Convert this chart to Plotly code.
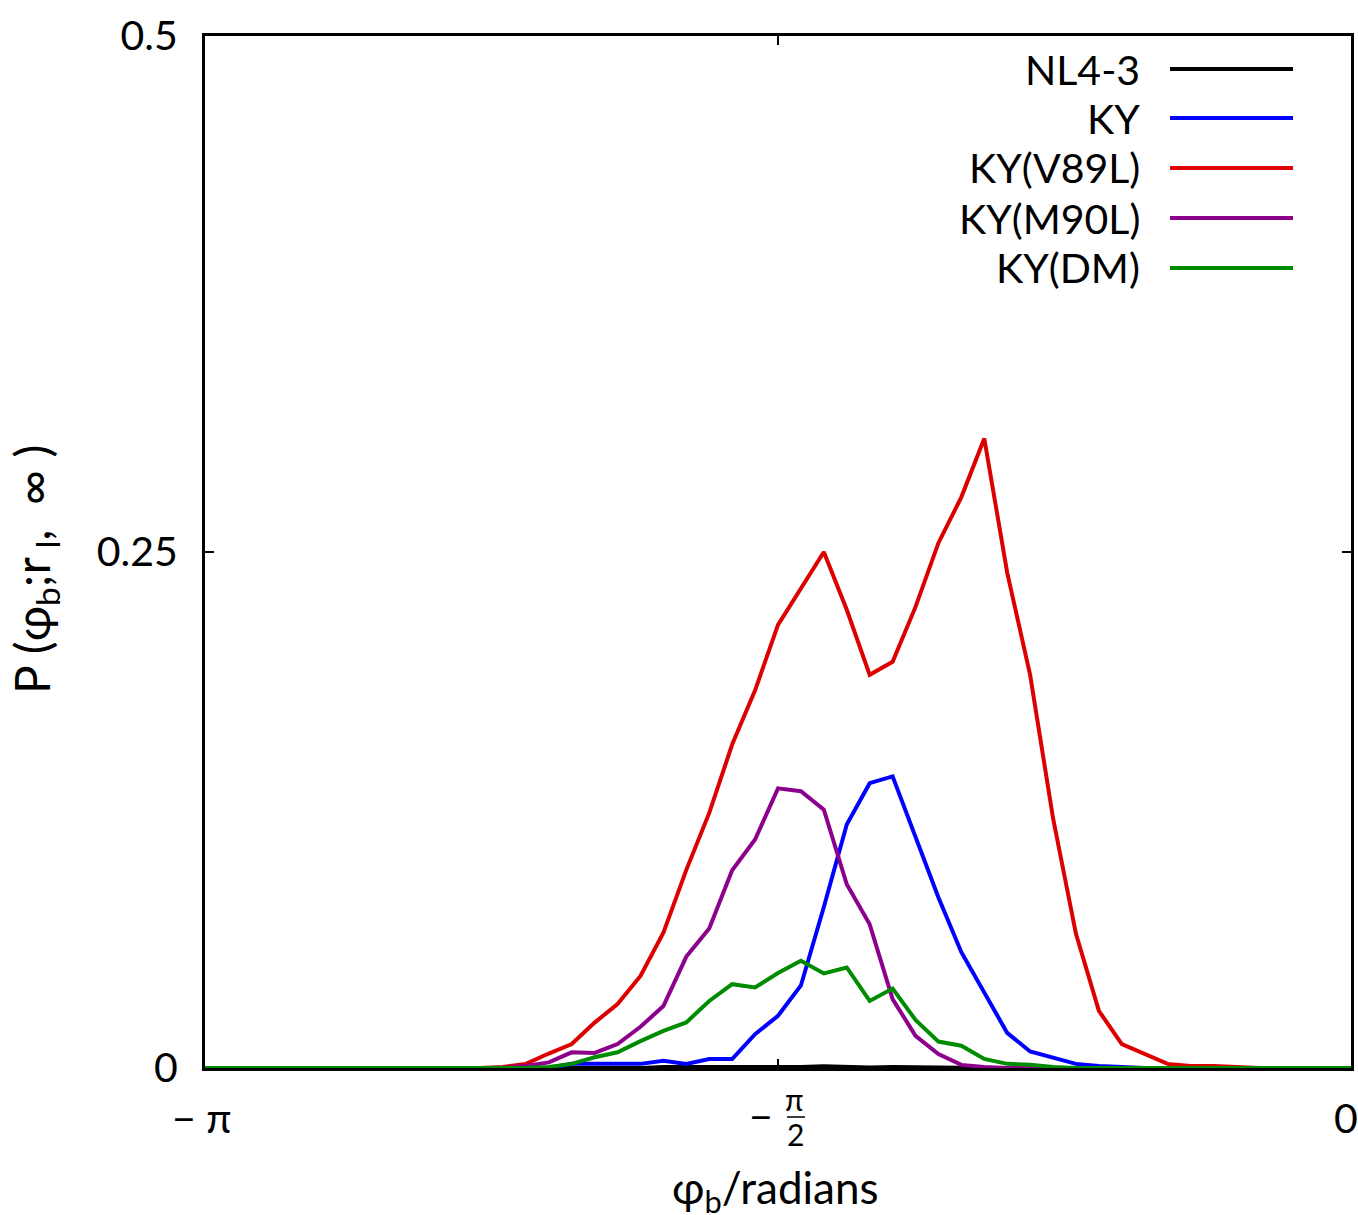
import math
import plotly.graph_objects as go

# bin index k -> phi_b = -pi + k*pi/50 (51 grid points from -pi to 0)
bin_index = list(range(51))
phi_b = [-math.pi + k * math.pi / 50 for k in bin_index]

series_names = ["NL4-3", "KY", "KY(V89L)", "KY(M90L)", "KY(DM)"]

nl43 = [0]*20 + [0.0005, 0.0005, 0.0005, 0.0005, 0.0003, 0.0003, 0.0005, 0.0008, 0.0005, 0.0003,
                 0.0005, 0.0003] + [0]*19

ky = [0]*16 + [0.002, 0.002, 0.002, 0.002, 0.0035, 0.002, 0.0043, 0.0043, 0.0164, 0.0253,
               0.040, 0.078, 0.118, 0.138, 0.1413, 0.112, 0.0826, 0.0561, 0.0367, 0.0170,
               0.008, 0.0052, 0.002, 0.001, 0.0003] + [0]*10

ky_v89l = [0]*13 + [0.0005, 0.002, 0.007, 0.0116, 0.022, 0.031, 0.0446, 0.0656, 0.096, 0.1236,
                    0.1567, 0.183, 0.2147, 0.2326, 0.250, 0.222, 0.1905, 0.1968, 0.2234, 0.2544,
                    0.2766, 0.305, 0.240, 0.1905, 0.121, 0.065, 0.0277, 0.0116, 0.0068, 0.002,
                    0.001, 0.001, 0.0005] + [0]*5

ky_m90l = [0]*14 + [0.001, 0.0027, 0.0076, 0.0073, 0.0116, 0.020, 0.030, 0.054, 0.0676, 0.0958,
                    0.1107, 0.1355, 0.1341, 0.1252, 0.089, 0.0696, 0.0334, 0.0156, 0.0068, 0.0015,
                    0.0005] + [0]*16

ky_dm = [0]*15 + [0.0005, 0.002, 0.0052, 0.0076, 0.013, 0.018, 0.0221, 0.0325, 0.0406, 0.039,
                  0.046, 0.052, 0.0458, 0.0487, 0.0325, 0.0385, 0.0233, 0.0128, 0.0108, 0.0044,
                  0.002, 0.0016, 0.0005] + [0]*13

colors = ["#000000", "#0000ff", "#dc0000", "#8c008c", "#008c00"]
all_series = [nl43, ky, ky_v89l, ky_m90l, ky_dm]

x_tickvals = [-math.pi, -math.pi / 2, 0]
y_tickvals = [0, 0.25, 0.5]
y_ticktext = ["0", "0.25", "0.5"]

FONT = "Lato, 'Open Sans', sans-serif"
FS = 41

fig = go.Figure()
for name, vals, col in zip(series_names, all_series, colors):
    fig.add_trace(go.Scatter(x=phi_b, y=vals, mode="lines", name=name,
                             line=dict(color=col, width=4), showlegend=False))

fig.update_layout(
    width=1358, height=1215,
    margin=dict(l=205, r=7, t=36, b=147, autoexpand=False),
    plot_bgcolor="white", paper_bgcolor="white",
    font=dict(family=FONT, size=FS, color="black"),
    xaxis=dict(range=[-math.pi, 0], tickvals=x_tickvals, showticklabels=False,
               showgrid=False, zeroline=False, showline=True, linecolor="black",
               linewidth=3, mirror="ticks", ticks="inside", ticklen=9, tickwidth=2,
               tickcolor="black", automargin=False),
    yaxis=dict(range=[0, 0.5], tickvals=y_tickvals, ticktext=y_ticktext,
               showgrid=False, zeroline=False, showline=True, linecolor="black",
               linewidth=3, mirror="ticks", ticks="inside", ticklen=9, tickwidth=2,
               tickcolor="black", tickfont=dict(size=FS), ticklabelstandoff=16,
               automargin=False),
)

ann = []
# x tick labels
ann.append(dict(x=-math.pi, y=0, xref="x", yref="paper", text="\u2212 \u03c0", showarrow=False,
                xanchor="center", yanchor="middle", xshift=-3, yshift=-49, font=dict(size=FS)))
ann.append(dict(x=0, y=0, xref="x", yref="paper", text="0", showarrow=False,
                xanchor="center", yanchor="middle", xshift=-5, yshift=-49, font=dict(size=FS)))
# -pi/2 fraction tick label
ann.append(dict(x=-math.pi / 2, y=0, xref="x", yref="paper", text="\u2212", showarrow=False,
                xanchor="center", yanchor="middle", xshift=-17, yshift=-47, font=dict(size=FS)))
ann.append(dict(x=-math.pi / 2, y=0, xref="x", yref="paper", text="\u03c0", showarrow=False,
                xanchor="center", yanchor="middle", xshift=16, yshift=-31, font=dict(size=30)))
ann.append(dict(x=-math.pi / 2, y=0, xref="x", yref="paper", text="2", showarrow=False,
                xanchor="center", yanchor="middle", xshift=17, yshift=-66, font=dict(size=30)))
# axis titles
ann.append(dict(x=0.5, y=0, xref="paper", yref="paper", text="\u03c6<sub>b</sub>/radians",
                showarrow=False, xanchor="center", yanchor="middle", xshift=-3, yshift=-122,
                font=dict(size=44)))
ann.append(dict(x=0, y=0.4826, xref="paper", yref="paper",
                text="P (\u03c6<sub>b</sub>;r<sub> l</sub>,  \u221e )", textangle=-90,
                showarrow=False, xanchor="center", yanchor="middle", xshift=-170,
                font=dict(size=48)))

shapes = [dict(type="line", xref="x", yref="paper", xsizemode="pixel", ysizemode="pixel",
               xanchor=-math.pi / 2, yanchor=0, x0=9, x1=27, y0=-49, y1=-49,
               line=dict(color="black", width=1.5))]

# custom legend (text left, line sample right)
legend_y = [0.968, 0.9205, 0.8721, 0.8236, 0.7752]
for name, col, ly in zip(series_names, colors, legend_y):
    ann.append(dict(x=0.8141, y=ly, xref="paper", yref="paper", text=name, showarrow=False,
                    xanchor="right", yanchor="middle", xshift=4, font=dict(size=FS)))
    shapes.append(dict(type="line", xref="paper", yref="paper", x0=0.8421, x1=0.9494,
                       y0=ly, y1=ly, line=dict(color=col, width=4)))

fig.update_layout(annotations=ann, shapes=shapes)
fig.write_html("out.html", config={"displayModeBar": False},
               post_script="document.body.style.margin='0px';document.body.style.overflow='hidden';")
